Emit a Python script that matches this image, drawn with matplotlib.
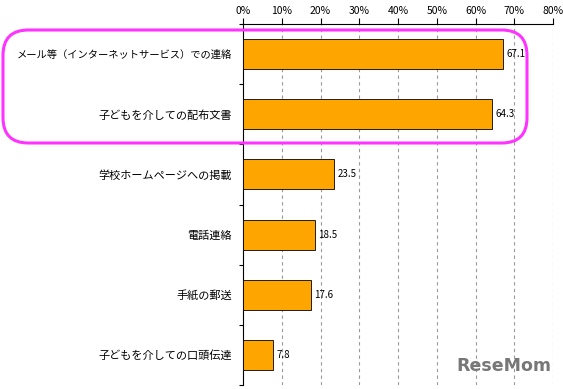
import matplotlib
matplotlib.use('Agg')
import matplotlib.pyplot as plt
from matplotlib.patches import FancyBboxPatch
import numpy as np

plt.rcParams['font.family'] = ['Noto Sans CJK JP', 'DejaVu Sans']

# ── Datos ─────────────────────────────────────────────
categorias = ['メール等（インターネットサービス）での連絡',
              '子どもを介しての配布文書',
              '学校ホームページへの掲載',
              '電話連絡',
              '手紙の郵送',
              '子どもを介しての口頭伝達']
valores = [67.1, 64.3, 23.5, 18.5, 17.6, 7.8]
ticks_x = [0, 10, 20, 30, 40, 50, 60, 70, 80]

fig = plt.figure(figsize=(5.63, 3.89), dpi=100)
ax = fig.add_axes([243 / 563, 1 - 385 / 389, 310 / 563, 361 / 389])

y = np.arange(len(categorias))
ax.barh(y, valores, height=0.5, color='#FFA500', edgecolor='black', linewidth=0.6, zorder=3)
for yi, v in zip(y, valores):
    ax.text(v + 0.8, yi, f'{v}', va='center', ha='left', fontsize=7, zorder=11)

ax.set_xlim(0, 80)
ax.set_ylim(len(categorias) - 0.5, -0.5)
ax.xaxis.tick_top()
ax.set_xticks(ticks_x)
ax.set_xticklabels([f'{t}%' for t in ticks_x], fontsize=7.5)
ax.tick_params(axis='x', direction='out', length=4, width=0.8, pad=2)
ax.set_yticks(y)
ax.set_yticklabels(categorias, fontsize=8)
ax.get_yticklabels()[0].set_fontsize(7.4)
ax.tick_params(axis='y', length=0, pad=8)
ax.set_yticks(np.arange(-0.5, len(categorias), 1), minor=True)
ax.tick_params(axis='y', which='minor', length=3, width=0.8, direction='out')

for t in ticks_x[1:]:
    ax.axvline(t, color='#999999', linestyle=(0, (3, 3)), linewidth=0.8, zorder=1)

ax.spines['right'].set_visible(False)
ax.spines['bottom'].set_visible(False)
ax.spines['top'].set_linewidth(0.8)
ax.spines['left'].set_linewidth(0.8)

# Recuadro magenta
caja = FancyBboxPatch((3 / 563, 1 - 143 / 389), 524 / 563, 113 / 389,
                      boxstyle='round,pad=0,rounding_size=0.045',
                      mutation_aspect=563 / 389,
                      transform=fig.transFigure, fill=False,
                      edgecolor='#FF33FF', linewidth=2.2, zorder=10)
fig.patches.append(caja)

fig.text(0.895, 0.06, 'ReseMom', fontsize=12.5, fontweight='bold',
         color='#777777', ha='center', va='center', family='DejaVu Sans')

plt.savefig('out.png', dpi=100)
